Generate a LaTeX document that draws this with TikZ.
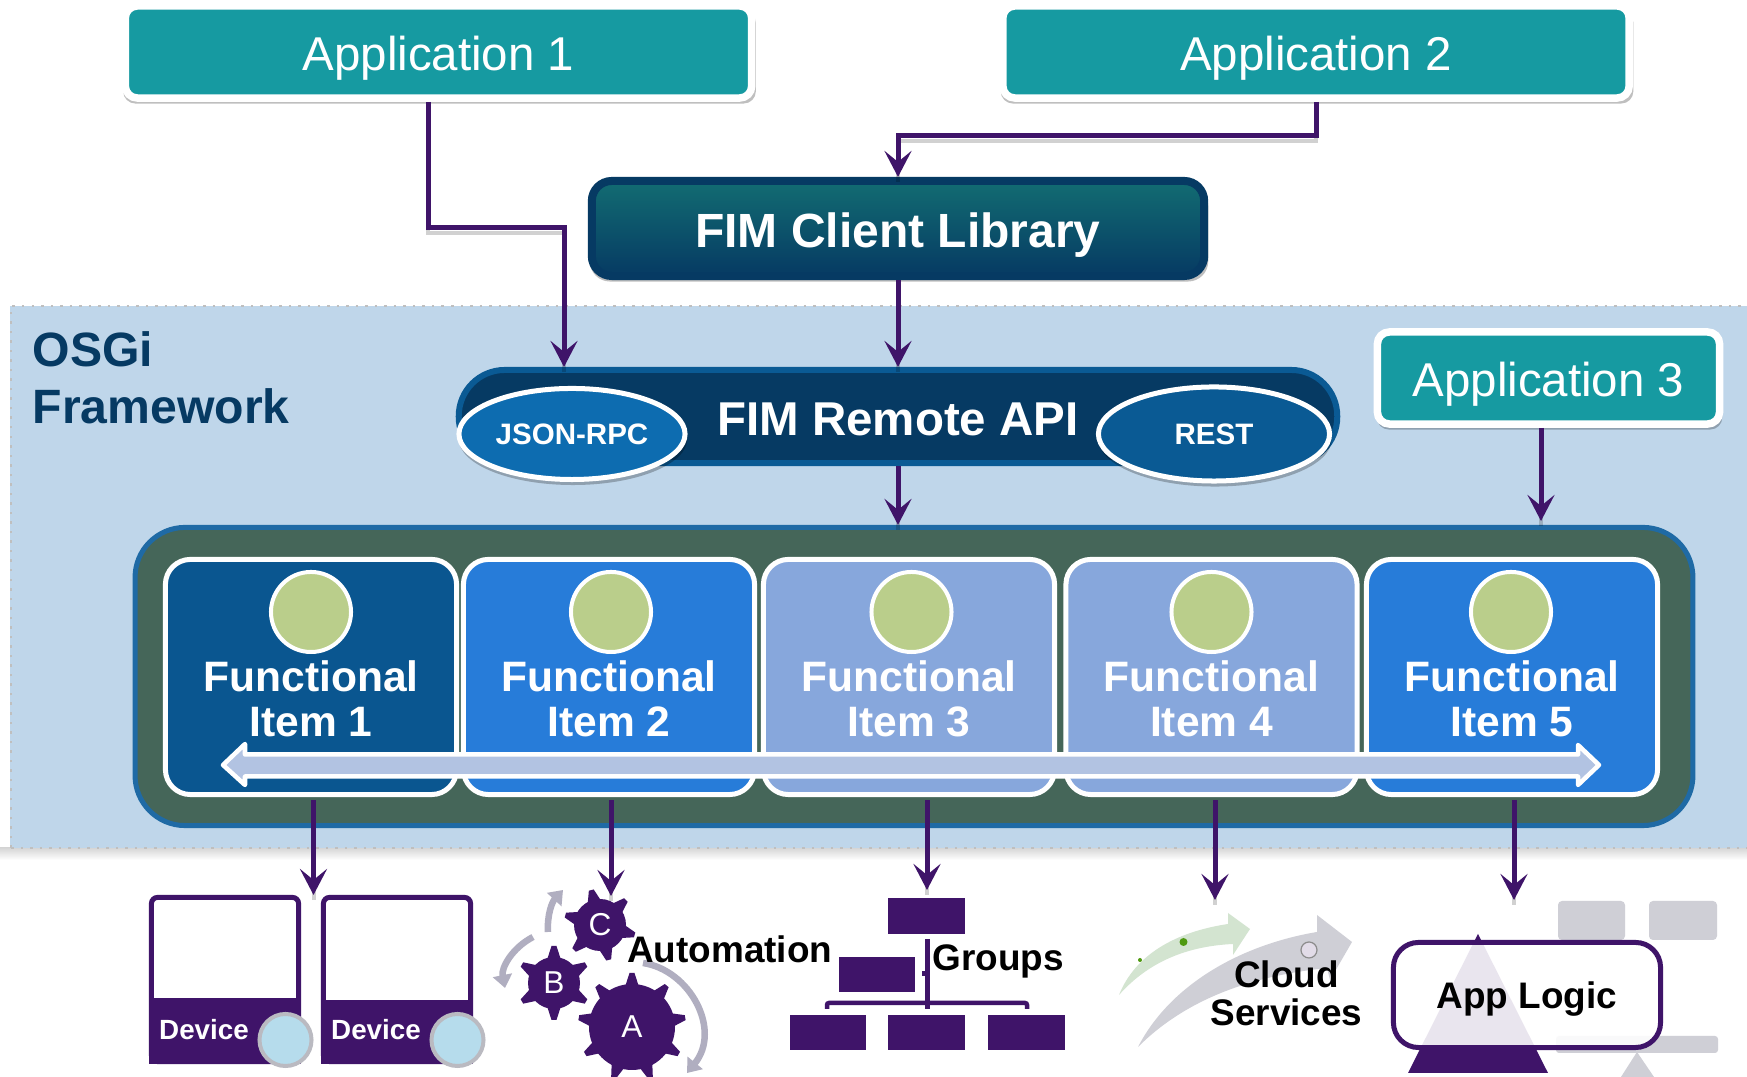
\documentclass[tikz,border=0pt]{standalone}
\usepackage{fontspec}
\setmainfont{Liberation Sans}
\usetikzlibrary{arrows.meta,shapes.geometric,shadows}
\definecolor{teal1}{HTML}{169AA1}
\definecolor{navy1}{HTML}{063A63}
\definecolor{navy2}{HTML}{0A5A94}
\definecolor{tealtop}{HTML}{126C72}
\definecolor{bandblue}{HTML}{BFD6EA}
\definecolor{fabricgreen}{HTML}{456659}
\definecolor{fabricedge}{HTML}{1F6AA5}
\definecolor{itemdark}{HTML}{0A5690}
\definecolor{itemmid}{HTML}{277CD9}
\definecolor{itemlight}{HTML}{87A7DC}
\definecolor{olive1}{HTML}{BACE8B}
\definecolor{purple1}{HTML}{3F1469}
\definecolor{arrowfill}{HTML}{B2C3E2}
\definecolor{greyarc}{HTML}{B0AEC0}
\definecolor{greyblock}{HTML}{CFCFD6}
\definecolor{iceblue}{HTML}{B6DCEC}
\definecolor{jsonblue}{HTML}{0D6CB0}
\definecolor{paleleaf}{HTML}{D3E4D0}
\definecolor{leaf}{HTML}{4F9A10}
\tikzset{
  softshadow/.style={drop shadow={shadow xshift=.1mm,shadow yshift=-.5mm,shadow scale=1.01,fill=black,opacity=.25}},
  appbox/.style={draw=white,fill=teal1,line width=.075cm,rounded corners=.12cm,
    minimum width=6.26cm,minimum height=.92cm,text=white,text depth=0pt,text height=.37cm,inner sep=0pt,
    font=\fontsize{13.5}{16}\selectfont,softshadow},
  flow/.style={draw=purple1,line width=.05cm,-{Stealth[length=.26cm,width=.27cm,inset=.11cm]},
    preaction={draw=black,draw opacity=.18,line width=.04cm,-,transform canvas={yshift=-.05cm}}},
  apitag/.style={ellipse,draw=white,line width=.05cm,text=white,text depth=0pt,inner sep=0pt,
    font=\fontsize{8.4}{10}\bfseries,softshadow},
  itembox/.style={draw=white,line width=.05cm,rounded corners=.25cm,minimum width=2.91cm,minimum height=2.35cm},
  itemdot/.style={circle,draw=white,fill=olive1,line width=.04cm,minimum size=.8cm,inner sep=0pt},
  itemtext/.style={text=white,align=center,inner sep=0pt,font=\fontsize{12.1}{12.8}\bfseries},
  blocktext/.style={text=black,inner sep=0pt,font=\fontsize{10.5}{10.8}\bfseries},
  block/.style={fill=purple1,minimum width=.76cm,minimum height=.355cm,inner sep=0pt},
  turn/.style={draw=greyarc,line width=.065cm,-{Triangle[length=.13cm,width=.19cm]}},
  pics/gearwheel/.style n args={4}{code={
    \fill[purple1] (0,0) circle (#1);
    \foreach \k in {1,...,#3} {
      \fill[purple1,rotate=#4+360*\k/#3] (#1-3,-7) -- (#2,-2.5) -- (#2,2.5) -- (#1-3,7) -- cycle;
    }
  }}
}
\begin{document}
\begin{tikzpicture}[x=.01cm,y=-.01cm]
  \useasboundingbox (0,0) rectangle (1747,1077);
  \clip (0,0) rectangle (1747,1077);

  % OSGi band
  \fill[white] (0,0) rectangle (1747,1077);
  \shade[top color=black!16,bottom color=white] (0,848) rectangle (1747,860);
  \node[fill=bandblue,minimum width=17.44cm,minimum height=5.42cm,inner sep=0pt] (band) at (883,577) {};
  \draw[black!25,dotted,line width=.025cm] (11,848) -- (11,306) -- (1747,306);
  \draw[black!25,dotted,line width=.025cm] (11,848) -- (1747,848);
  \node[anchor=north west,align=left,inner sep=0pt,text=navy1,font=\fontsize{13.7}{16.3}\bfseries] (osgi) at (32,331) {OSGi\\Framework};

  % Applications
  \node[appbox] (app1) at (438.5,52) {Application 1};
  \node[appbox] (app2) at (1316,52) {Application 2};
  \node[appbox,minimum width=3.42cm] (app3) at (1548.5,378) {Application 3};

  % Client library and remote API
  \node[draw=navy1,line width=.08cm,rounded corners=.2cm,top color=tealtop,middle color=navy1,bottom color=navy1,
    minimum width=6.12cm,minimum height=.95cm,text=white,text depth=0pt,text height=.375cm,inner sep=0pt,
    font=\fontsize{13.65}{16}\bfseries,softshadow] (client) at (898,228.5) {FIM Client Library};
  \node[draw=navy2,fill=navy1,line width=.06cm,rounded corners=.46cm,minimum width=8.78cm,minimum height=.93cm,
    text=white,text depth=0pt,text height=.39cm,inner sep=0pt,font=\fontsize{13.5}{16}\bfseries] (api) at (898,416.5) {FIM Remote API};
  \node[apitag,fill=jsonblue,minimum width=2.26cm,minimum height=.91cm] (json) at (572,434) {JSON-RPC};
  \node[apitag,fill=navy2,minimum width=2.31cm,minimum height=.94cm] (rest) at (1214,434) {REST};

  % Functional items
  \node[draw=fabricedge,fill=fabricgreen,line width=.05cm,rounded corners=.5cm,minimum width=15.57cm,minimum height=2.98cm] (fabric) at (914,676.5) {};
  \foreach \n/\x/\c/\cx/\dx/\dy in {1/311/itemdark/311/313.5/895,2/609/itemmid/611/611/896,3/909/itemlight/911.5/927/890,4/1211.5/itemlight/1211.5/1215/900,5/1512/itemmid/1511/1514/900} {
    \node[itembox,fill=\c] (item\n) at (\x,677) {};
    \node[itemdot] (dot\n) at (\cx,612) {};
    \node[itemtext] (label\n) at (\x,698.5) {Functional\\Item \n};
    \coordinate (drop\n) at (\dx,\dy);
  }
  \draw[draw=white,fill=arrowfill,line width=.045cm,line join=round] (245,754.5) -- (245,744) -- (223,765) -- (245,785) -- (245,776.5) -- (1578,776.5) -- (1578,785) -- (1599,765) -- (1578,745) -- (1578,754.5) -- cycle;

  % Connectors
  \coordinate (viaA) at (428,228);
  \coordinate (viaB) at (564,228);
  \coordinate (viaC) at (898,136);
  \coordinate (inThree) at (1541,521);
  \draw[flow] (app1.south -| viaA) -- (viaA) -- (viaB) -- (viaB |- api.north);
  \draw[flow] (app2.south) |- (viaC) -- (client.north);
  \draw[flow] (client.south) -- (api.north);
  \draw[flow] (api.south) -- (api.south |- fabric.north);
  \draw[flow] (app3.south -| inThree) -- (inThree);
  \foreach \n in {1,...,5} {
    \draw[flow] ([yshift=-.03cm]item\n.south -| drop\n) -- (drop\n);
  }

  % Devices
  \foreach \n/\x/\t in {1/149/998,2/321/1000} {
    \node[draw=purple1,fill=white,line width=.05cm,rounded corners=.06cm,minimum width=1.47cm,minimum height=1.64cm] (device\n) at (\x+76,979.5) {};
    \fill[purple1] (\x,\t) rectangle (\x+152,1064);
    \node[text=white,inner sep=0pt,font=\fontsize{7.9}{9}\bfseries] (devlabel\n) at (\x+55,1029.5) {Device};
    \node[circle,draw=greyblock!90!black,fill=iceblue,line width=.04cm,minimum size=.52cm,inner sep=0pt] (devdot\n) at (\x+136.5,1040) {};
  }

  % Automation
  \pic at (632,1027) {gearwheel={43}{54}{9}{90}};
  \pic at (554,983) {gearwheel={26}{37}{6}{90}};
  \pic at (600,925) {gearwheel={26}{36}{6}{104}};
  \node[text=white,inner sep=0pt,font=\fontsize{9}{10}\selectfont] (gearA) at (632,1027) {A};
  \node[text=white,inner sep=0pt,font=\fontsize{9}{10}\selectfont] (gearB) at (554,983) {B};
  \node[text=white,inner sep=0pt,font=\fontsize{9}{10}\selectfont] (gearC) at (600,925) {C};
  \draw[turn] (548,932) .. controls (547,915) and (552,902) .. (563,890);
  \draw[turn] (533,937) .. controls (512,948) and (501,968) .. (505,988);
  \draw[turn] (643,963) .. controls (690,970) and (722,1030) .. (687,1073);
  \node[blocktext,anchor=base west] (automation) at (626.5,963) {Automation};

  % Groups
  \node[block] (groupTop) at (926.5,916) {};
  \node[block] (groupMid) at (877,974.5) {};
  \node[block] (groupA) at (828,1032.5) {};
  \node[block] (groupB) at (926.5,1032.5) {};
  \node[block] (groupC) at (1026.5,1032.5) {};
  \draw[purple1,line width=.05cm] (927,939) -- (927,1009);
  \draw[purple1,line width=.05cm] (922,974) -- (927,974);
  \draw[purple1,line width=.045cm,rounded corners=.02cm] (827,1009) -- (827,1003) -- (1027,1003) -- (1027,1009);
  \node[blocktext,anchor=base west] (groups) at (932,971) {Groups};

  % Cloud services
  \fill[paleleaf] (1119,995) .. controls (1135,955) and (1175,932) .. (1228,924) -- (1228,913) -- (1250,929) -- (1233,955) -- (1233,944) .. controls (1190,946) and (1150,960) .. cycle;
  \fill[greyblock] (1138,1047) .. controls (1170,985) and (1240,945) .. (1317,932) -- (1317,915) -- (1352,942) -- (1330,980) -- (1327,968) .. controls (1260,975) and (1190,995) .. cycle;
  \fill[leaf] (1183.5,942) circle (4);
  \fill[leaf] (1140,960) circle (2);
  \draw[black!45,fill=purple1!15,line width=.012cm] (1309,950) circle (8);
  \node[blocktext,align=center] (cloud) at (1286.5,993) {Cloud\\Services};

  % App logic
  \fill[greyblock,rounded corners=.04cm] (1558,901) rectangle (1625,940);
  \fill[greyblock,rounded corners=.04cm] (1649,901) rectangle (1717,940);
  \fill[greyblock,rounded corners=.03cm] (1556,1036) rectangle (1718,1053);
  \fill[greyblock] (1637,1052) -- (1654,1077) -- (1621,1077) -- cycle;
  \fill[purple1] (1478,934) -- (1548,1073) -- (1408,1073) -- cycle;
  \node[draw=purple1,fill=white,fill opacity=.89,text opacity=1,line width=.05cm,rounded corners=.25cm,
    minimum width=2.67cm,minimum height=1.05cm,text depth=0pt,inner sep=0pt,blocktext] (logic) at (1527,995) {App Logic};
\end{tikzpicture}
\end{document}
